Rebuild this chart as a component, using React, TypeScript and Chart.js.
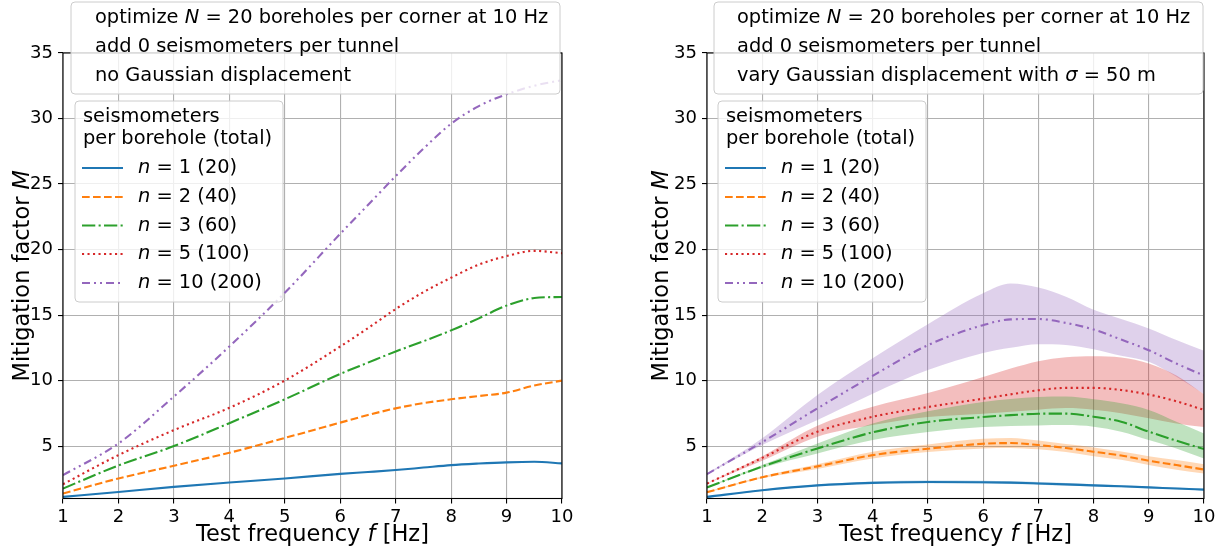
import React, { useEffect, useRef } from "react";
import { Chart, registerables } from "chart.js";

Chart.register(...registerables);

// ---------------- data ----------------
const freq = [1, 2, 3, 4, 5, 6, 6.5, 7, 7.5, 8, 8.5, 9, 9.5, 10];
const xTicks = [1, 2, 3, 4, 5, 6, 7, 8, 9, 10];
const yTicks = [5, 10, 15, 20, 25, 30, 35];

const nValues = [1, 2, 3, 5, 10];
const nTotals = [20, 40, 60, 100, 200];

// left panel: no Gaussian displacement
const leftN1 = [1.12, 1.5, 1.89, 2.22, 2.53, 2.88, 3.02, 3.17, 3.36, 3.55, 3.67, 3.76, 3.8, 3.68];
const leftN2 = [1.38, 2.53, 3.5, 4.49, 5.62, 6.79, 7.37, 7.88, 8.28, 8.57, 8.82, 9.08, 9.62, 10.0];
const leftN3 = [1.76, 3.52, 5.0, 6.75, 8.57, 10.51, 11.37, 12.22, 13.0, 13.83, 14.75, 15.72, 16.3, 16.38];
const leftN5 = [2.09, 4.31, 6.22, 7.92, 10.0, 12.6, 14.0, 15.46, 16.75, 17.85, 18.85, 19.5, 19.9, 19.72];
const leftN10 = [2.78, 5.2, 8.78, 12.6, 16.7, 21.2, 23.4, 25.6, 27.7, 29.6, 30.95, 31.85, 32.5, 32.93];

// right panel: Gaussian displacement sigma = 50 m (mean, upper, lower)
const rightN1 = [1.12, 1.63, 2.0, 2.19, 2.26, 2.24, 2.21, 2.15, 2.08, 2.0, 1.93, 1.85, 1.76, 1.68];
const rightN1Up = [1.14, 1.68, 2.07, 2.29, 2.37, 2.35, 2.32, 2.26, 2.18, 2.09, 2.01, 1.92, 1.83, 1.75];
const rightN1Lo = [1.1, 1.58, 1.94, 2.1, 2.16, 2.14, 2.11, 2.05, 1.99, 1.92, 1.86, 1.79, 1.7, 1.62];

const rightN2 = [1.48, 2.62, 3.45, 4.31, 4.8, 5.18, 5.23, 5.08, 4.85, 4.57, 4.28, 3.88, 3.55, 3.21];
const rightN2Up = [1.52, 2.7, 3.62, 4.57, 5.12, 5.56, 5.62, 5.42, 5.15, 4.9, 4.58, 4.23, 3.93, 3.62];
const rightN2Lo = [1.44, 2.55, 3.26, 4.06, 4.55, 4.82, 4.86, 4.75, 4.55, 4.23, 3.95, 3.55, 3.2, 2.9];

const rightN3 = [1.84, 3.44, 4.82, 6.05, 6.84, 7.22, 7.36, 7.47, 7.48, 7.24, 6.86, 6.1, 5.41, 4.77];
const rightN3Up = [1.87, 3.55, 5.2, 6.73, 7.65, 8.37, 8.6, 8.75, 8.78, 8.57, 8.27, 7.76, 6.86, 5.97];
const rightN3Lo = [1.81, 3.33, 4.44, 5.46, 6.07, 6.45, 6.53, 6.58, 6.6, 6.48, 6.1, 5.46, 4.82, 4.06];

const rightN5 = [2.14, 4.1, 6.1, 7.24, 7.98, 8.62, 8.95, 9.26, 9.44, 9.44, 9.28, 8.93, 8.42, 7.76];
const rightN5Up = [2.16, 4.23, 6.55, 8.0, 9.05, 10.28, 10.92, 11.48, 11.78, 11.86, 11.76, 11.3, 10.38, 8.95];
const rightN5Lo = [2.12, 3.88, 5.71, 6.6, 7.22, 7.47, 7.63, 7.78, 7.9, 7.78, 7.5, 7.12, 6.73, 6.45];

const rightN10 = [2.86, 5.3, 7.88, 10.36, 12.7, 14.23, 14.67, 14.7, 14.4, 13.9, 13.13, 12.32, 11.3, 10.38];
const rightN10Up = [2.9, 5.6, 8.9, 11.7, 14.3, 16.66, 17.4, 17.1, 16.4, 15.4, 14.7, 13.98, 13.1, 12.27];
const rightN10Lo = [2.82, 5.08, 7.0, 9.0, 10.8, 12.1, 12.5, 12.78, 12.72, 12.4, 11.9, 11.43, 10.3, 8.98];

// ---------------- styles ----------------
const colors = ["#1f77b4", "#ff7f0e", "#2ca02c", "#d62728", "#9467bd"];
const bandColors = [
  "rgba(31,119,180,0.3)",
  "rgba(255,127,14,0.3)",
  "rgba(44,160,44,0.3)",
  "rgba(214,39,40,0.3)",
  "rgba(148,103,189,0.3)",
];
const dashes: number[][] = [[], [7.7, 3.3], [13.3, 3.3, 2.1, 3.3], [2.1, 3.4], [8, 4, 2, 4, 2, 4]];
const LW = 2.1;
const FONT = '"DejaVu Sans", "Liberation Sans", sans-serif';
const TICK_SIZE = 18;
const LEG_SIZE = 19.4;
const TITLE_SIZE = 22.5;

type Seg = { t: string; i?: boolean };

const xTitle: Seg[] = [{ t: "Test frequency " }, { t: "f", i: true }, { t: " [Hz]" }];
const yTitle: Seg[] = [{ t: "Mitigation factor " }, { t: "M", i: true }];
const legendTitle = ["seismometers", "per borehole (total)"];
const infoLeft: Seg[][] = [
  [{ t: "optimize " }, { t: "N", i: true }, { t: " = 20 boreholes per corner at 10 Hz" }],
  [{ t: "add 0 seismometers per tunnel" }],
  [{ t: "no Gaussian displacement" }],
];
const infoRight: Seg[][] = [
  [{ t: "optimize " }, { t: "N", i: true }, { t: " = 20 boreholes per corner at 10 Hz" }],
  [{ t: "add 0 seismometers per tunnel" }],
  [{ t: "vary Gaussian displacement with " }, { t: "σ", i: true }, { t: " = 50 m" }],
];

function drawSegs(ctx: CanvasRenderingContext2D, segs: Seg[], x: number, y: number, size: number, align: "left" | "center") {
  const fonts = segs.map((s) => `${s.i ? "italic " : ""}${size}px ${FONT}`);
  const widths = segs.map((s, k) => {
    ctx.font = fonts[k];
    return ctx.measureText(s.t).width;
  });
  const total = widths.reduce((a, b) => a + b, 0);
  let cx = align === "center" ? x - total / 2 : x;
  ctx.textAlign = "left";
  segs.forEach((s, k) => {
    ctx.font = fonts[k];
    ctx.fillText(s.t, cx, y);
    cx += widths[k];
  });
}

function roundBox(ctx: CanvasRenderingContext2D, x: number, y: number, w: number, h: number, r: number) {
  ctx.beginPath();
  ctx.moveTo(x + r, y);
  ctx.lineTo(x + w - r, y);
  ctx.quadraticCurveTo(x + w, y, x + w, y + r);
  ctx.lineTo(x + w, y + h - r);
  ctx.quadraticCurveTo(x + w, y + h, x + w - r, y + h);
  ctx.lineTo(x + r, y + h);
  ctx.quadraticCurveTo(x, y + h, x, y + h - r);
  ctx.lineTo(x, y + r);
  ctx.quadraticCurveTo(x, y, x + r, y);
  ctx.closePath();
  ctx.fillStyle = "rgba(255,255,255,0.8)";
  ctx.fill();
  ctx.strokeStyle = "#cccccc";
  ctx.lineWidth = 1;
  ctx.stroke();
}

type PanelCfg = {
  id: string;
  left: number;
  width: number;
  yAxisWidth: number;
  padRight: number;
  yTitleX: number;
  info: Seg[][];
  box1: { x: number; y: number; w: number; h: number; tx: number; ys: number[] };
  box2: { x: number; y: number; w: number; h: number; tx: number; tys: number[]; hx: number[]; lx: number; ys: number[] };
  lines: number[][];
  bands: number[][][] | null;
};

const toXY = (arr: number[]) => arr.map((v, i) => ({ x: freq[i], y: v }));

function panelPlugin(p: PanelCfg) {
  return {
    id: "panel" + p.id,
    afterDatasetsDraw(chart: any) {
      const { ctx, chartArea: a } = chart;
      ctx.save();
      ctx.strokeStyle = "#000";
      ctx.lineWidth = 1.1;
      ctx.strokeRect(a.left, a.top, a.right - a.left, a.bottom - a.top);
      ctx.restore();
    },
    afterDraw(chart: any) {
      const { ctx, chartArea: a } = chart;
      const ox = p.left;
      ctx.save();
      ctx.fillStyle = "#000";
      ctx.textBaseline = "middle";
      drawSegs(ctx, xTitle, (a.left + a.right) / 2, 535, TITLE_SIZE, "center");
      ctx.save();
      ctx.translate(p.yTitleX - ox, (a.top + a.bottom) / 2);
      ctx.rotate(-Math.PI / 2);
      drawSegs(ctx, yTitle, 0, 0, TITLE_SIZE, "center");
      ctx.restore();

      const b1 = p.box1;
      roundBox(ctx, b1.x - ox, b1.y, b1.w, b1.h, 4);
      ctx.fillStyle = "#000";
      p.info.forEach((segs, k) => drawSegs(ctx, segs, b1.tx - ox, b1.ys[k], LEG_SIZE, "left"));

      const b2 = p.box2;
      roundBox(ctx, b2.x - ox, b2.y, b2.w, b2.h, 4);
      ctx.fillStyle = "#000";
      legendTitle.forEach((t, k) => drawSegs(ctx, [{ t }], b2.tx - ox, b2.tys[k], LEG_SIZE, "left"));
      nValues.forEach((n, k) => {
        const y = b2.ys[k];
        ctx.save();
        ctx.strokeStyle = colors[k];
        ctx.lineWidth = LW;
        ctx.lineCap = "butt";
        ctx.setLineDash(dashes[k]);
        ctx.beginPath();
        ctx.moveTo(b2.hx[0] - ox, y);
        ctx.lineTo(b2.hx[1] - ox, y);
        ctx.stroke();
        ctx.restore();
        ctx.fillStyle = "#000";
        drawSegs(ctx, [{ t: "n", i: true }, { t: ` = ${n} (${nTotals[k]})` }], b2.lx - ox, y, LEG_SIZE, "left");
      });
      ctx.restore();
    },
  };
}

function buildChart(canvas: HTMLCanvasElement, p: PanelCfg) {
  const datasets: any[] = [];
  if (p.bands) {
    p.bands.forEach((band, k) => {
      datasets.push({
        data: toXY(band[0]),
        fill: "+1",
        backgroundColor: bandColors[k],
        borderColor: "rgba(0,0,0,0)",
        borderWidth: 0,
        pointRadius: 0,
        cubicInterpolationMode: "monotone",
      });
      datasets.push({
        data: toXY(band[1]),
        fill: false,
        borderColor: "rgba(0,0,0,0)",
        borderWidth: 0,
        pointRadius: 0,
        cubicInterpolationMode: "monotone",
      });
    });
  }
  p.lines.forEach((arr, k) => {
    datasets.push({
      data: toXY(arr),
      fill: false,
      borderColor: colors[k],
      borderWidth: LW,
      borderDash: dashes[k],
      borderCapStyle: "butt",
      pointRadius: 0,
      cubicInterpolationMode: "monotone",
    });
  });

  return new Chart(canvas, {
    type: "line",
    data: { datasets },
    options: {
      animation: false,
      responsive: false,
      devicePixelRatio: 1,
      events: [],
      layout: { padding: { top: 53, right: p.padRight, left: 0, bottom: 0 } },
      plugins: { legend: { display: false }, tooltip: { enabled: false } },
      scales: {
        x: {
          type: "linear",
          min: 1,
          max: 10,
          afterBuildTicks: (s: any) => {
            s.ticks = xTicks.map((v) => ({ value: v }));
          },
          afterFit: (s: any) => {
            s.height = 52.5;
          },
          grid: { color: "#b0b0b0", lineWidth: 1.1, tickColor: "#000", tickLength: 5, tickWidth: 1.1 },
          border: { display: false },
          ticks: { color: "#000", font: { family: FONT, size: TICK_SIZE }, padding: 3, maxRotation: 0, autoSkip: false },
        },
        y: {
          type: "linear",
          min: 1,
          max: 35,
          afterBuildTicks: (s: any) => {
            s.ticks = yTicks.map((v) => ({ value: v }));
          },
          afterFit: (s: any) => {
            s.width = p.yAxisWidth;
          },
          grid: { color: "#b0b0b0", lineWidth: 1.1, tickColor: "#000", tickLength: 5, tickWidth: 1.1 },
          border: { display: false },
          ticks: { color: "#000", font: { family: FONT, size: TICK_SIZE }, padding: 5, autoSkip: false },
        },
      },
    },
    plugins: [panelPlugin(p)],
  } as any);
}

const leftPanel: PanelCfg = {
  id: "L",
  left: 0,
  width: 615,
  yAxisWidth: 63,
  padRight: 53,
  yTitleX: 23,
  info: infoLeft,
  box1: { x: 71, y: 2, w: 489, h: 92, tx: 95, ys: [18, 47, 76] },
  box2: { x: 75, y: 101, w: 208, h: 201, tx: 83, tys: [117, 139], hx: [82, 123], lx: 138, ys: [168, 197, 225.5, 254, 283] },
  lines: [leftN1, leftN2, leftN3, leftN5, leftN10],
  bands: null,
};

const rightPanel: PanelCfg = {
  id: "R",
  left: 615,
  width: 615,
  yAxisWidth: 92,
  padRight: 26,
  yTitleX: 662,
  info: infoRight,
  box1: { x: 714, y: 2, w: 489, h: 92, tx: 737, ys: [18, 47, 76] },
  box2: { x: 718, y: 101, w: 208, h: 201, tx: 726, tys: [117, 139], hx: [725, 766], lx: 781, ys: [168, 197, 225.5, 254, 283] },
  lines: [rightN1, rightN2, rightN3, rightN5, rightN10],
  bands: [
    [rightN1Up, rightN1Lo],
    [rightN2Up, rightN2Lo],
    [rightN3Up, rightN3Lo],
    [rightN5Up, rightN5Lo],
    [rightN10Up, rightN10Lo],
  ],
};

export default function App() {
  const leftRef = useRef<HTMLCanvasElement>(null);
  const rightRef = useRef<HTMLCanvasElement>(null);

  useEffect(() => {
    const c1 = buildChart(leftRef.current!, leftPanel);
    const c2 = buildChart(rightRef.current!, rightPanel);
    return () => {
      c1.destroy();
      c2.destroy();
    };
  }, []);

  return (
    <div style={{ position: "absolute", left: 0, top: 0, width: 1230, height: 551, background: "#fff" }}>
      <canvas
        ref={leftRef}
        width={leftPanel.width}
        height={551}
        style={{ position: "absolute", left: leftPanel.left, top: 0, width: leftPanel.width, height: 551 }}
      />
      <canvas
        ref={rightRef}
        width={rightPanel.width}
        height={551}
        style={{ position: "absolute", left: rightPanel.left, top: 0, width: rightPanel.width, height: 551 }}
      />
    </div>
  );
}
